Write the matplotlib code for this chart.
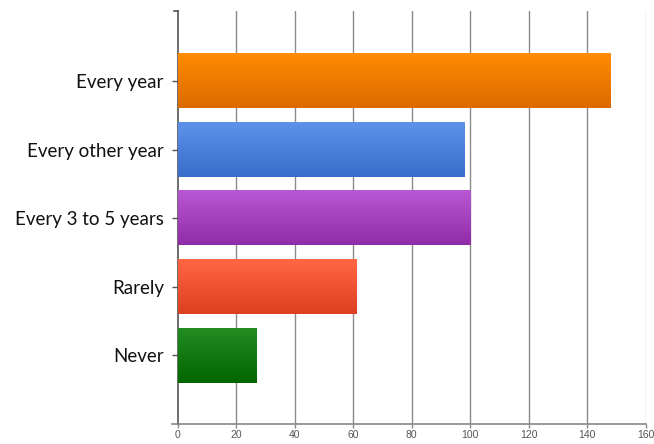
import numpy as np
import matplotlib
matplotlib.use("Agg")
import matplotlib.pyplot as plt
from matplotlib.colors import LinearSegmentedColormap

# data
categories = ["Never", "Rarely", "Every 3 to 5 years", "Every other year", "Every year"]
counts = [27, 61, 100, 98, 148]
x_ticks = [0, 20, 40, 60, 80, 100, 120, 140, 160]

# gradient colours (top, bottom) per bar
top_colors = ["#238c23", "#ff6644", "#b857d4", "#5e92ea", "#ff8c00"]
bottom_colors = ["#006600", "#dc4020", "#912ca8", "#3a6ccb", "#dc6a00"]

fig = plt.figure(figsize=(6.54, 4.44), dpi=100)
ax = fig.add_axes([0.2717, 0.045, 0.7156, 0.930])

ypos = np.arange(len(categories))
bars = ax.barh(ypos, counts, height=0.79, color=bottom_colors, zorder=2)

# gradient fill per bar, top->bottom
grad = np.linspace(0, 1, 64).reshape(-1, 1)
for b, c_top, c_bot in zip(bars, top_colors, bottom_colors):
    cmap = LinearSegmentedColormap.from_list("g", [c_top, c_bot])
    x0, y0 = b.get_x(), b.get_y()
    w, h = b.get_width(), b.get_height()
    ax.imshow(grad, cmap=cmap, aspect="auto", zorder=3,
              extent=(x0, x0 + w, y0, y0 + h), origin="upper")
    b.set_visible(False)

ax.set_xlim(0, 160)
ax.set_ylim(-1, 5.02)

for t in x_ticks[1:]:
    ax.axvline(t, color="#8a8a8a" if t < 160 else "#c4c4c4", lw=1.0, zorder=1)

ax.set_yticks(ypos)
ax.set_yticklabels(categories, fontsize=13.5, family=["Lato", "DejaVu Sans"], color="#111111")
ax.set_xticks(x_ticks)
ax.set_xticklabels([str(t) for t in x_ticks], fontsize=7.5, color="#555555",
                   family=["Liberation Sans Narrow", "Liberation Sans", "DejaVu Sans"])

ax.tick_params(axis="y", length=4, width=1, color="#555555", pad=6)
ax.tick_params(axis="x", length=3, width=1, color="#888888", pad=1)

for s in ["top", "right"]:
    ax.spines[s].set_visible(False)
ax.spines["left"].set_color("#555555")
ax.spines["left"].set_linewidth(1.2)
ax.spines["bottom"].set_color("#888888")
ax.spines["bottom"].set_linewidth(1.2)

# small cap at the top of the y axis and short stub left of the x axis
ax.plot([-1.2, 0], [5.02, 5.02], color="#555555", lw=1.2, clip_on=False)
ax.plot([-2.0, 0], [-1, -1], color="#888888", lw=1.2, clip_on=False)

fig.savefig("out.png", dpi=100, facecolor="white")
